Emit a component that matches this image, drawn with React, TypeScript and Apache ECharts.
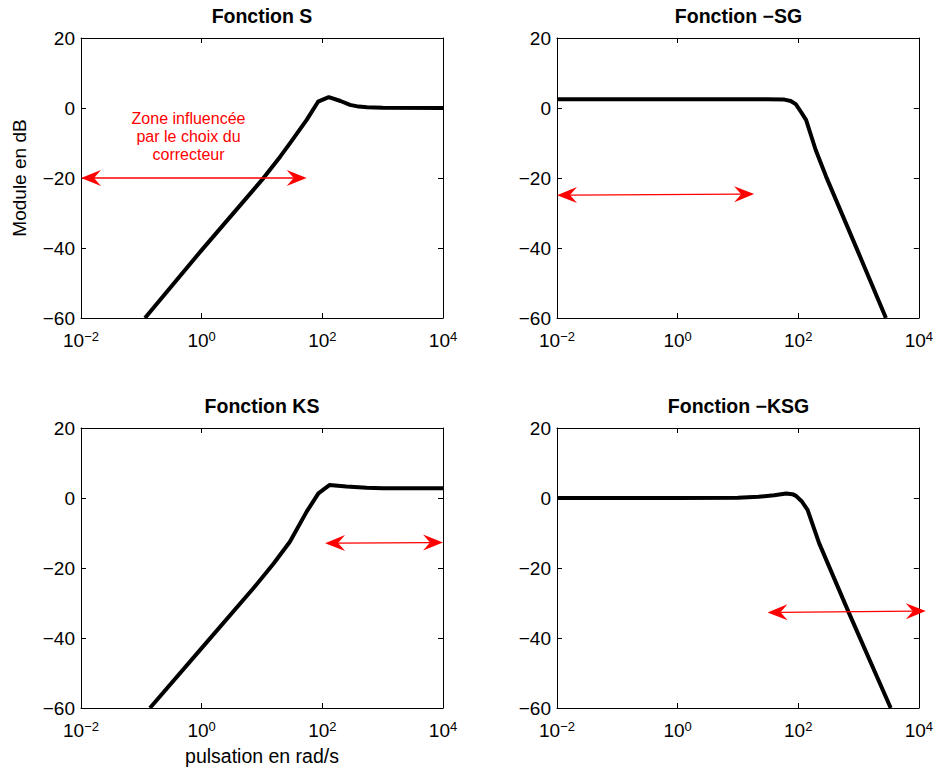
import React, { useEffect, useRef } from "react";
import * as echarts from "echarts";

const FONT = '"Liberation Sans", Arial, Helvetica, sans-serif';

// Axis ranges
const X_MIN = 0.01;
const X_MAX = 10000;
const Y_MIN = -60;
const Y_MAX = 20;
const Y_STEP = 20;
const X_DECADE_STEP = 2;

const titles = ["Fonction S", "Fonction −SG", "Fonction KS", "Fonction −KSG"];
const yAxisTitle = "Module en dB";
const xAxisTitle = "pulsation en rad/s";
const noteText = "Zone influencée\npar le choix du\ncorrecteur";

// Fonction S
const sOmega = [0.115, 1, 10.5, 20, 29, 55, 85, 128, 200, 288, 400, 550, 1000, 10000];
const sDb = [-60, -40.6, -20.1, -13.9, -10.1, -3.4, 1.8, 3.1, 2.0, 0.9, 0.4, 0.2, 0.05, 0];

// Fonction -SG
const sgOmega = [0.01, 1, 30, 59, 75, 91, 110, 135, 195, 290, 1000, 2850];
const sgDb = [2.5, 2.5, 2.5, 2.4, 2.0, 1.1, -1.0, -3.4, -12.0, -19.6, -41.4, -60];

// Fonction KS
const ksOmega = [0.139, 1, 7.2, 15.6, 29, 55, 86, 131, 250, 543, 1000, 10000];
const ksDb = [-60, -42.9, -25.8, -18.7, -12.5, -3.9, 1.3, 3.7, 3.3, 2.95, 2.8, 2.8];

// Fonction -KSG
const ksgOmega = [0.01, 1, 10, 22, 40, 63, 80, 92, 115, 143, 222, 696, 3420];
const ksgDb = [0, 0, 0.1, 0.35, 0.8, 1.3, 1.1, 0.6, -1.0, -3.4, -12.9, -32.9, -60];

// Red double arrows: [omega1, dB1, omega2, dB2]
const arrowS = [0.01, -20, 55, -20];
const arrowSG = [0.01, -24.9, 18.6, -24.6];
const arrowKS = [111, -12.9, 10000, -12.7];
const arrowKSG = [31, -32.7, 13060, -32.3];

// Note position [omega, dB]
const notePos = [0.605, -8];

const curves = [
  [sOmega, sDb],
  [sgOmega, sgDb],
  [ksOmega, ksDb],
  [ksgOmega, ksgDb],
];
const arrows = [arrowS, arrowSG, arrowKS, arrowKSG];

// Layout
const grids = [
  { left: 81, top: 38, width: 362, height: 280 },
  { left: 557, top: 38, width: 363, height: 280 },
  { left: 81, top: 428, width: 362, height: 280 },
  { left: 557, top: 428, width: 363, height: 280 },
];

function expLabel(v: number) {
  const e = Math.round(Math.log10(v));
  const es = e < 0 ? "−" + -e : String(e);
  return "{b|10}{s|" + es + "}";
}

function yLabel(v: number) {
  return v < 0 ? "−" + Math.abs(v) : String(v);
}

function arrowRender(params: any, api: any) {
  const p1 = api.coord([api.value(0), api.value(1)]);
  const p2 = api.coord([api.value(2), api.value(3)]);
  const dx = p2[0] - p1[0];
  const dy = p2[1] - p1[1];
  const len = Math.hypot(dx, dy) || 1;
  const ux = dx / len;
  const uy = dy / len;
  const nx = -uy;
  const ny = ux;
  const L = 20;
  const W = 8;
  const N = 13;
  const head = (tip: number[], bx: number, by: number) => [
    [tip[0], tip[1]],
    [tip[0] + bx * L + nx * W, tip[1] + by * L + ny * W],
    [tip[0] + bx * N, tip[1] + by * N],
    [tip[0] + bx * L - nx * W, tip[1] + by * L - ny * W],
  ];
  return {
    type: "group",
    children: [
      {
        type: "line",
        shape: {
          x1: p1[0] + ux * N,
          y1: p1[1] + uy * N,
          x2: p2[0] - ux * N,
          y2: p2[1] - uy * N,
        },
        style: { stroke: "#ff0000", lineWidth: 1.3 },
      },
      { type: "polygon", shape: { points: head(p1, ux, uy) }, style: { fill: "#ff0000" } },
      { type: "polygon", shape: { points: head(p2, -ux, -uy) }, style: { fill: "#ff0000" } },
    ],
  };
}

function noteRender(params: any, api: any) {
  const p = api.coord([api.value(0), api.value(1)]);
  return {
    type: "text",
    x: p[0],
    y: p[1],
    style: {
      text: noteText,
      fill: "#ff0000",
      font: "16px " + FONT,
      lineHeight: 18,
      align: "center",
      verticalAlign: "middle",
    },
  };
}

export default function App() {
  const ref = useRef<HTMLDivElement>(null);

  useEffect(() => {
    if (!ref.current) return;
    const chart = echarts.init(ref.current, null, { renderer: "svg" });

    const xAxes: any[] = [];
    const yAxes: any[] = [];
    const series: any[] = [];
    const graphics: any[] = [];

    grids.forEach((g, i) => {
      const common = {
        gridIndex: i,
        axisLine: { show: true, onZero: false, lineStyle: { color: "#000", width: 1 } },
        axisTick: { show: true, inside: true, length: 5, lineStyle: { color: "#000", width: 1 } },
        splitLine: { show: false },
        minorTick: { show: false },
      };
      xAxes.push({
        ...common,
        type: "log",
        logBase: 10,
        position: "bottom",
        min: X_MIN,
        max: X_MAX,
        interval: X_DECADE_STEP,
        axisLabel: {
          show: true,
          margin: 12,
          formatter: expLabel,
          color: "#000",
          showMinLabel: true,
          showMaxLabel: true,
          rich: {
            b: {
              fontSize: 19,
              fontFamily: FONT,
              color: "#000",
              lineHeight: 20,
              verticalAlign: "bottom",
              padding: [6, 0, 0, 0],
            },
            s: {
              fontSize: 13,
              fontFamily: FONT,
              color: "#000",
              lineHeight: 14,
              verticalAlign: "top",
            },
          },
        },
        ...(i === 2
          ? {
              name: xAxisTitle,
              nameLocation: "middle",
              nameGap: 38,
              nameTextStyle: { fontSize: 19.5, fontFamily: FONT, color: "#000" },
            }
          : {}),
      });
      xAxes.push({
        ...common,
        type: "log",
        logBase: 10,
        position: "top",
        min: X_MIN,
        max: X_MAX,
        interval: X_DECADE_STEP,
        axisLabel: { show: false },
      });
      yAxes.push({
        ...common,
        type: "value",
        position: "left",
        min: Y_MIN,
        max: Y_MAX,
        interval: Y_STEP,
        axisLabel: {
          show: true,
          margin: 6,
          formatter: yLabel,
          fontSize: 19,
          fontFamily: FONT,
          color: "#000",
        },
        ...(i === 0
          ? {
              name: yAxisTitle,
              nameLocation: "middle",
              nameRotate: 90,
              nameGap: 52,
              nameTextStyle: { fontSize: 19, fontFamily: FONT, color: "#000" },
            }
          : {}),
      });
      yAxes.push({
        ...common,
        type: "value",
        position: "right",
        min: Y_MIN,
        max: Y_MAX,
        interval: Y_STEP,
        axisLabel: { show: false },
      });

      const [om, db] = curves[i];
      series.push({
        type: "line",
        xAxisIndex: 2 * i,
        yAxisIndex: 2 * i,
        data: om.map((o, k) => [o, db[k]]),
        showSymbol: false,
        symbol: "none",
        clip: true,
        lineStyle: { color: "#000", width: 4, join: "round", cap: "butt" },
        z: 3,
      });
      series.push({
        type: "custom",
        xAxisIndex: 2 * i,
        yAxisIndex: 2 * i,
        renderItem: arrowRender,
        clip: false,
        encode: { x: [0, 2], y: [1, 3] },
        data: [arrows[i]],
        z: 4,
      });

      graphics.push({
        type: "text",
        x: g.left + g.width / 2,
        y: g.top - 22,
        style: {
          text: titles[i],
          font: "bold 19.5px " + FONT,
          fill: "#000",
          align: "center",
          verticalAlign: "middle",
        },
      });
    });

    series.push({
      type: "custom",
      xAxisIndex: 0,
      yAxisIndex: 0,
      renderItem: noteRender,
      clip: false,
      encode: { x: 0, y: 1 },
      data: [notePos],
      z: 5,
    });

    chart.setOption({
      animation: false,
      backgroundColor: "#fff",
      textStyle: { fontFamily: FONT },
      grid: grids.map((g) => ({ ...g, containLabel: false })),
      xAxis: xAxes,
      yAxis: yAxes,
      series,
      graphic: graphics,
    });

    return () => chart.dispose();
  }, []);

  return (
    <div
      ref={ref}
      style={{ position: "absolute", left: 0, top: 0, width: 936, height: 769 }}
    />
  );
}
